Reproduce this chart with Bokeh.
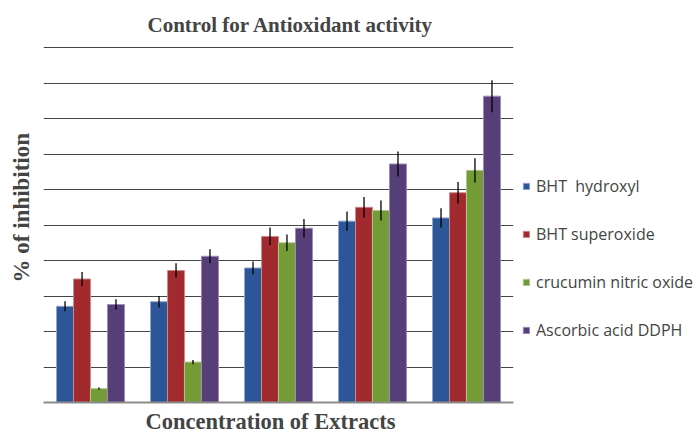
from bokeh.plotting import figure
from bokeh.models import ColumnDataSource, FactorRange, Legend, LegendItem, Range1d, SingleIntervalTicker, Title
from bokeh.transform import dodge
from bokeh.embed import file_html
from bokeh.resources import INLINE

concentrations = ["C1", "C2", "C3", "C4", "C5"]
series_names = ["BHT  hydroxyl", "BHT superoxide", "crucumin nitric oxide", "Ascorbic acid DDPH"]
bht_hydroxyl = [27.1, 28.4, 37.9, 51.1, 52.0]
bht_superoxide = [34.8, 37.2, 46.8, 55.0, 59.1]
crucumin_nitric_oxide = [3.9, 11.4, 45.0, 54.1, 65.4]
ascorbic_ddph = [27.6, 41.2, 49.1, 67.2, 86.3]
err_hydroxyl = [1.4, 1.6, 1.8, 2.7, 2.7]
err_superoxide = [2.0, 2.0, 2.5, 2.9, 3.0]
err_nitric_oxide = [0.3, 0.6, 2.3, 2.8, 3.4]
err_ddph = [1.5, 2.0, 2.6, 3.5, 4.5]

values = [bht_hydroxyl, bht_superoxide, crucumin_nitric_oxide, ascorbic_ddph]
errors = [err_hydroxyl, err_superoxide, err_nitric_oxide, err_ddph]
fills = ["#2D5699", "#A12A2F", "#739C36", "#563E79"]
edges = ["#8FA6CF", "#CC8A8C", "#AFC88E", "#9E8CB8"]
offsets = [-0.271, -0.09, 0.09, 0.271]

p = figure(x_range=FactorRange(factors=concentrations), y_range=Range1d(0, 100.3),
           frame_width=470, frame_height=356, output_backend="svg", toolbar_location=None,
           min_border_left=43, min_border_right=185, min_border_top=46, min_border_bottom=36)

p.title.text = "Control  for Antioxidant  activity"
p.title.text_font = "Liberation Serif"
p.title.text_font_style = "bold"
p.title.text_font_size = "21px"
p.title.align = "left"
p.title.offset = 104
p.title.standoff = 19

p.outline_line_color = None
p.xgrid.grid_line_color = None
p.ygrid.ticker = SingleIntervalTicker(interval=10)
p.yaxis.ticker = SingleIntervalTicker(interval=10)
p.ygrid.grid_line_color = "#444444"
p.ygrid.grid_line_width = 1

for ax in (p.xaxis, p.yaxis):
    ax.major_tick_line_color = None
    ax.minor_tick_line_color = None
    ax.major_tick_out = 0
    ax.major_tick_in = 0
    ax.major_label_text_font_size = "0px"
    ax.major_label_standoff = 0

p.yaxis.axis_line_color = None
p.xaxis.axis_line_color = "#8C8C8C"
p.xaxis.axis_line_width = 2

ylabel = Title(text="%  of inhibition", align="left", offset=120, standoff=12,
               text_font="Liberation Serif", text_font_style="bold", text_font_size="23px")
p.add_layout(ylabel, "left")

xlabel = Title(text="Concentration of Extracts", align="left", offset=102, standoff=8,
               text_font="Liberation Serif", text_font_style="bold", text_font_size="22.5px")
p.add_layout(xlabel, "below")

items = []
for name, vals, errs, fc, ec, off in zip(series_names, values, errors, fills, edges, offsets):
    src = ColumnDataSource(dict(
        cat=concentrations, v=vals,
        lo=[a - b for a, b in zip(vals, errs)],
        hi=[a + b for a, b in zip(vals, errs)]))
    r = p.vbar(x=dodge("cat", off, range=p.x_range), top="v", width=0.181, bottom=0,
               source=src, fill_color=fc, line_color=ec, line_width=1)
    p.segment(x0=dodge("cat", off, range=p.x_range), y0="lo",
              x1=dodge("cat", off, range=p.x_range), y1="hi",
              source=src, line_color="black", line_width=1.3)
    items.append(LegendItem(label=name, renderers=[r]))

legend = Legend(items=items, location=(9, 61), orientation="vertical",
                glyph_width=8, glyph_height=8, label_standoff=6,
                label_text_font="Open Sans", label_text_font_size="16px",
                label_height=20, spacing=26, padding=0, margin=0,
                border_line_color=None, background_fill_alpha=0)
p.add_layout(legend, "right")

open("out.html", "w").write(file_html(p, INLINE))
